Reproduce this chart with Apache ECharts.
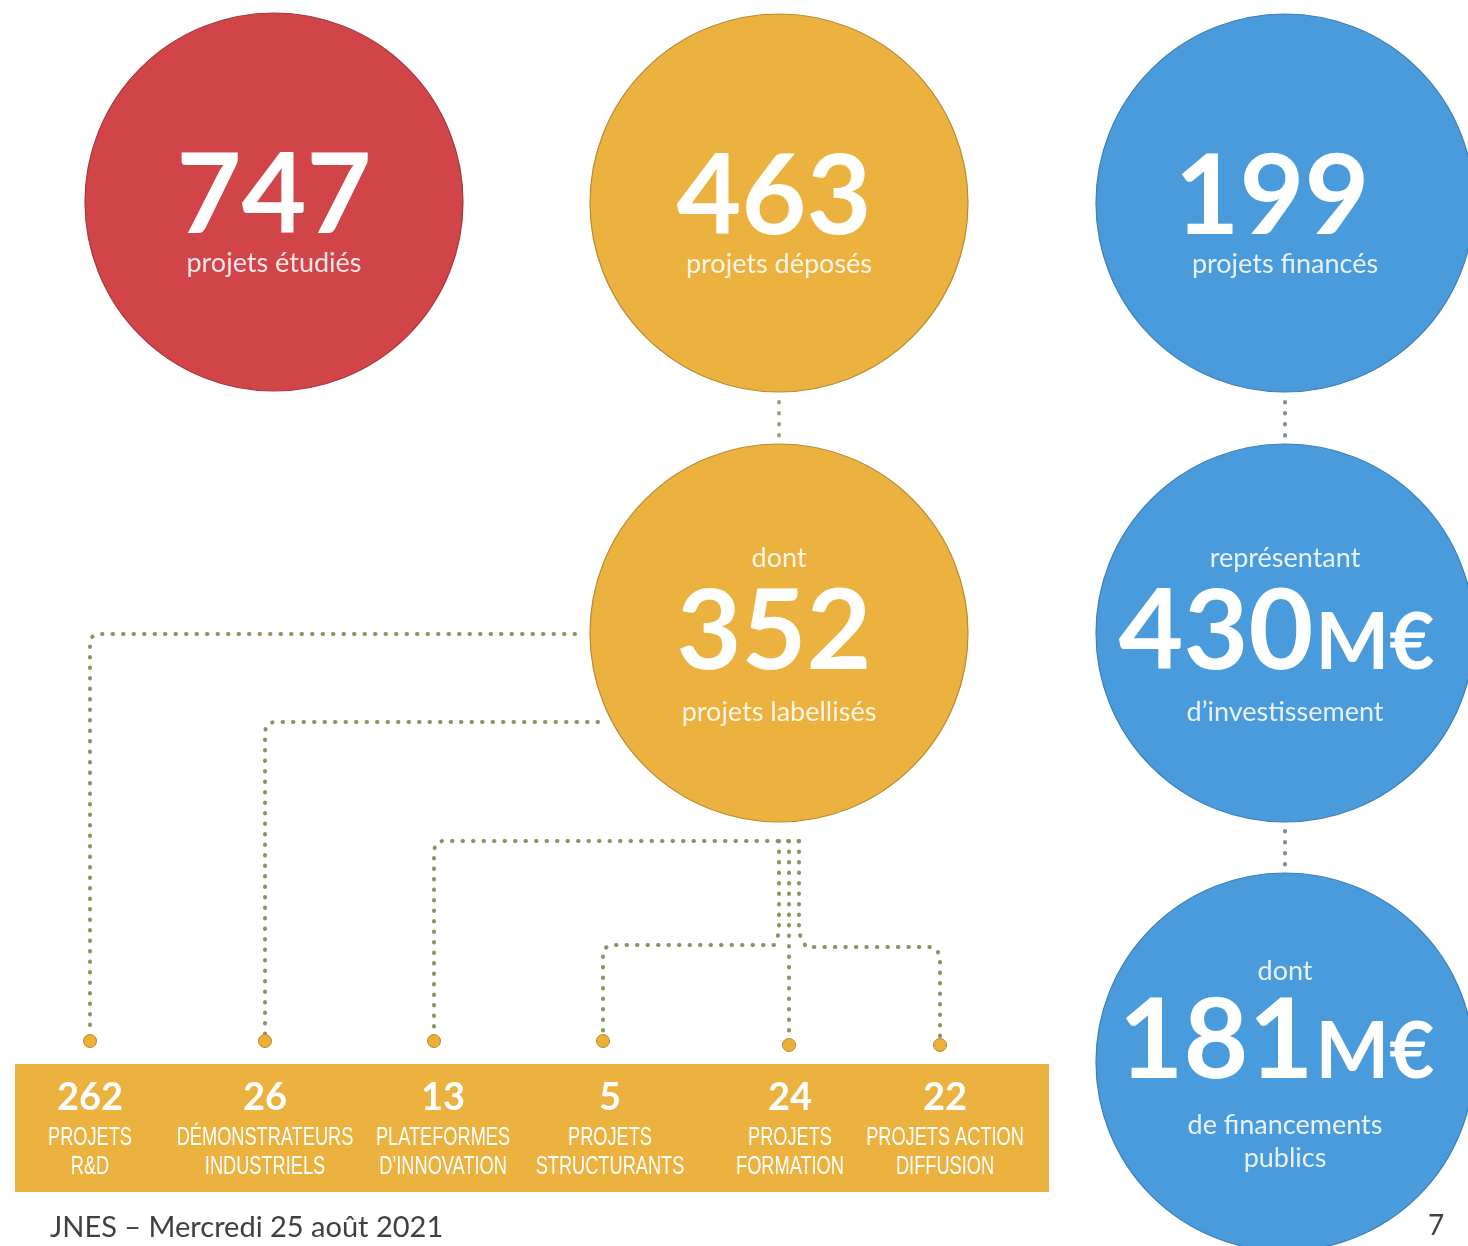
<!DOCTYPE html>
<html>
<head>
<meta charset="utf-8">
<script src="https://cdn.jsdelivr.net/npm/echarts@6/dist/echarts.min.js"></script>
<style>
html,body{margin:0;padding:0;background:#fff;}
#main{width:1468px;height:1246px;}
</style>
</head>
<body>
<div id="main"></div>
<script>
// ---------- DATA ----------
const circleValues = [747, 463, 199, 352, 430, 181];
const circleUnits = ['', '', '', '', 'M€', 'M€'];
const circleTopWords = ['', '', '', 'dont', 'représentant', 'dont'];
const circleBottomWords = ['projets étudiés', 'projets déposés', 'projets financés', 'projets labellisés', 'd’investissement', 'de financements\npublics'];
const circleGroups = ['red', 'yellow', 'blue', 'yellow', 'blue', 'blue'];

const breakdownValues = [262, 26, 13, 5, 24, 22];
const breakdownLabels = ['PROJETS\nR&D', 'DÉMONSTRATEURS\nINDUSTRIELS', 'PLATEFORMES\nD’INNOVATION', 'PROJETS\nSTRUCTURANTS', 'PROJETS\nFORMATION', 'PROJETS ACTION\nDIFFUSION'];

const footerText = 'JNES – Mercredi 25 août 2021';
const pageNumber = '7';

// ---------- LAYOUT / STYLE ----------
const W = 1468, H = 1246;
const colors = { red: '#D14448', yellow: '#ECB23F', blue: '#4A9BDB' };
const borders = { red: '#A9373B', yellow: '#B98A30', blue: '#3C7FB8' };
const circleCenters = [[274, 202], [779, 203], [1285, 203], [779, 633], [1285, 633], [1285, 1062]];
const circleDiameter = 378;
// vertical offsets of text parts relative to centre: [top word, number, bottom word]
const textOffsets = [[0, -5, 61], [0, -5, 61], [0, -5, 61], [-75, 0, 79], [-75, 0, 79], [-91, -20, 79.5]];
const numShift = [0, -5, -13, -5, -69, -69];
const unitShift = [0, 0, 0, 0, 90, 90];
const unitDrop = 10.5;

const columnX = [90, 265, 443, 610, 790, 945];
const barBox = [15, 1064, 1049, 1192];

// tree connectors (polylines) from 352 circle to the columns
const treePaths = [
  [[575, 634], [98, 634], [92, 637], [90, 643], [90, 1034]],
  [[598, 722], [273, 722], [267, 725], [265, 731], [265, 1034]],
  [[799, 841], [442, 841], [436, 844], [434, 850], [434, 1034]],
  [[779, 841], [779, 933], [774, 945], [612, 945], [605, 948], [603, 955], [603, 1034]],
  [[789, 841], [789, 1038]],
  [[799, 841], [799, 933], [806, 947], [930, 947], [937, 950], [940, 957], [940, 1038]]
];
const treeEnds = [[90, 1041], [265, 1041], [434, 1041], [603, 1041], [789, 1045], [940, 1045]];
const shortLinks = [
  { path: [[779, 402], [779, 438]], color: '#A59E7E' },
  { path: [[1285, 402], [1285, 438]], color: '#7D8B9B' },
  { path: [[1285, 831], [1285, 867]], color: '#7D8B9B' }
];

const numFont = 'Lato';
const subFont = 'Lato';
const narrowFont = '"Liberation Sans", Arial, sans-serif';

// ---------- BUILD ----------
const circleData = circleValues.map((v, i) => ({
  value: [circleCenters[i][0], circleCenters[i][1], v],
  itemStyle: { color: colors[circleGroups[i]], borderColor: borders[circleGroups[i]], borderWidth: 1.2, opacity: 1 }
}));

const textData = [];
function addText(x, y, text, style) {
  textData.push({ value: [x, y], label: Object.assign({ show: true, formatter: text, position: 'inside', align: 'center', verticalAlign: 'middle', color: '#fff' }, style) });
}
const subColor = 'rgba(255,255,255,0.87)';
circleValues.forEach((v, i) => {
  const [cx, cy] = circleCenters[i];
  const off = textOffsets[i];
  if (circleTopWords[i]) addText(cx, cy + off[0], circleTopWords[i], { fontFamily: subFont, fontSize: 27, color: subColor });
  addText(cx + numShift[i], cy + off[1], String(v), { fontFamily: numFont, fontWeight: 'bold', fontSize: 112, color: '#fff' });
  if (circleUnits[i]) addText(cx + unitShift[i], cy + off[1] + unitDrop, circleUnits[i], { fontFamily: numFont, fontWeight: 'bold', fontSize: 78, color: '#fff' });
  addText(cx, cy + off[2], circleBottomWords[i], { fontFamily: subFont, fontSize: 27, lineHeight: 33, color: subColor });
});
breakdownValues.forEach((v, i) => {
  addText(columnX[i], 1098, String(v), { fontFamily: numFont, fontWeight: 'bold', fontSize: 38, color: '#fff' });
});
addText(50, 1228, footerText, { fontFamily: 'Lato', fontSize: 29, color: '#404040', align: 'left' });
addText(1436, 1226, pageNumber, { fontFamily: 'Lato', fontSize: 28, color: '#404040' });

const chart = echarts.init(document.getElementById('main'), null, { renderer: 'canvas' });
chart.setOption({
  animation: false,
  backgroundColor: '#ffffff',
  grid: { left: 0, right: 0, top: 0, bottom: 0 },
  xAxis: { type: 'value', min: 0, max: W, show: false },
  yAxis: { type: 'value', min: 0, max: H, inverse: true, show: false },
  series: [
    {
      type: 'custom',
      renderItem: function (params, api) {
        const p1 = api.coord([api.value(0), api.value(1)]);
        const p2 = api.coord([api.value(2), api.value(3)]);
        return { type: 'rect', shape: { x: p1[0], y: p1[1], width: p2[0] - p1[0], height: p2[1] - p1[1] }, style: { fill: colors.yellow } };
      },
      data: [barBox],
      silent: true,
      z: 1
    },
    {
      type: 'lines', coordinateSystem: 'cartesian2d', polyline: true, silent: true,
      lineStyle: { color: '#8F9160', width: 4, type: [0.5, 10], cap: 'round', opacity: 1 },
      data: treePaths.map(p => ({ coords: p })),
      z: 2
    },
    {
      type: 'lines', coordinateSystem: 'cartesian2d', polyline: true, silent: true,
      lineStyle: { width: 4, type: [0.5, 10.5], cap: 'round', opacity: 1 },
      data: shortLinks.map(l => ({ coords: l.path, lineStyle: { color: l.color } })),
      z: 2
    },
    {
      type: 'scatter', symbol: 'circle', symbolSize: 13, silent: true,
      itemStyle: { color: '#EDB033', borderColor: '#B08A3A', borderWidth: 1, opacity: 1 },
      data: treeEnds,
      z: 3
    },
    {
      type: 'scatter', symbol: 'circle', symbolSize: circleDiameter, silent: true,
      data: circleData,
      z: 4
    },
    {
      type: 'scatter', symbolSize: 0, silent: true,
      itemStyle: { opacity: 1 },
      data: textData,
      z: 10
    },
    {
      type: 'custom', silent: true, z: 11,
      data: breakdownLabels.map((t, i) => [columnX[i], 1152, i]),
      renderItem: function (params, api) {
        const p = api.coord([api.value(0), api.value(1)]);
        return {
          type: 'text', x: p[0], y: p[1], scaleX: 0.7, scaleY: 1,
          style: { text: breakdownLabels[api.value(2)], align: 'center', verticalAlign: 'middle', fontFamily: narrowFont, fontSize: 26, lineHeight: 29, fill: '#fff' }
        };
      }
    }
  ]
});
</script>
</body>
</html>
